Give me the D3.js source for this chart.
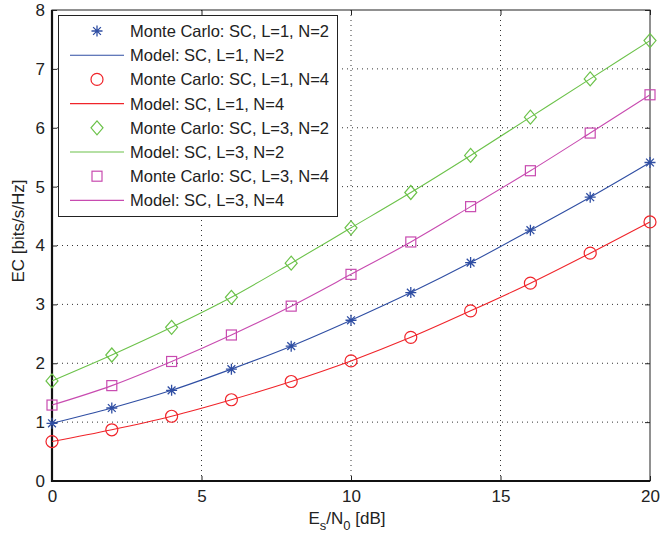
<!DOCTYPE html>
<html><head><meta charset="utf-8">
<script src="https://cdn.jsdelivr.net/npm/d3@7"></script>
<style>
body{margin:0;background:#fff;}
svg text{font-family:"Liberation Sans",Arial,Helvetica,sans-serif;fill:#222;}
</style></head>
<body><svg id="c" width="660" height="536"></svg>
<script>
const snr = [0,2,4,6,8,10,12,14,16,18,20];
const ecL1N2 = [0.98,1.24,1.54,1.90,2.29,2.73,3.20,3.71,4.26,4.82,5.41];
const ecL1N4 = [0.67,0.87,1.10,1.38,1.69,2.04,2.44,2.89,3.36,3.87,4.40];
const ecL3N2 = [1.70,2.14,2.61,3.12,3.70,4.30,4.90,5.53,6.18,6.83,7.48];
const ecL3N4 = [1.29,1.62,2.03,2.48,2.97,3.51,4.06,4.66,5.27,5.91,6.56];
const xTicks = [0,5,10,15,20];
const yTicks = [0,1,2,3,4,5,6,7,8];
const seriesNames = ["SC, L=1, N=2","SC, L=1, N=4","SC, L=3, N=2","SC, L=3, N=4"];
const seriesColors = ["#2f4ea3","#f0242a","#6cc24a","#c84bb0"];
const seriesMarkers = ["star","circle","diamond","square"];
const seriesData = [ecL1N2, ecL1N4, ecL3N2, ecL3N4];

const svg = d3.select("#c");
const L=52, R=650, T=10, B=481;
const x = d3.scaleLinear().domain([0,20]).range([L,R]);
const y = d3.scaleLinear().domain([0,8]).range([B,T]);

// grid
const g = svg.append("g");
g.selectAll(".gx").data(xTicks.slice(1,-1)).enter().append("line")
  .attr("x1",d=>x(d)).attr("x2",d=>x(d)).attr("y1",T).attr("y2",B)
  .attr("stroke","#333").attr("stroke-width",1).attr("stroke-dasharray","1,4");
g.selectAll(".gy").data(yTicks.slice(1,-1)).enter().append("line")
  .attr("y1",d=>y(d)).attr("y2",d=>y(d)).attr("x1",L).attr("x2",R)
  .attr("stroke","#333").attr("stroke-width",1).attr("stroke-dasharray","1,4");

// frame
svg.append("rect").attr("x",L).attr("y",T).attr("width",R-L).attr("height",B-T)
  .attr("fill","none").attr("stroke","#222").attr("stroke-width",1);

// axes
const xa = svg.append("g").attr("transform",`translate(0,${B})`)
  .call(d3.axisBottom(x).tickValues(xTicks).tickSize(-5).tickPadding(9).tickFormat(d3.format("d")));
const ya = svg.append("g").attr("transform",`translate(${L},0)`)
  .call(d3.axisLeft(y).tickValues(yTicks).tickSize(-5).tickPadding(7).tickFormat(d3.format("d")));
const xt = svg.append("g").attr("transform",`translate(0,${T})`)
  .call(d3.axisTop(x).tickValues(xTicks).tickSize(-5).tickFormat(""));
const yr = svg.append("g").attr("transform",`translate(${R},0)`)
  .call(d3.axisRight(y).tickValues(yTicks).tickSize(-5).tickFormat(""));
[xa,ya,xt,yr].forEach(a=>{a.select(".domain").remove();a.selectAll("line").attr("stroke","#222");});
[xa,ya].forEach(a=>a.selectAll("text").attr("font-size",17).style("fill","#222"));
xa.selectAll("text").attr("dy","0.71em");
// thick left & bottom axis lines
svg.append("line").attr("x1",L).attr("x2",L).attr("y1",T).attr("y2",B+1).attr("stroke","#111").attr("stroke-width",2.2);
svg.append("line").attr("x1",L-1).attr("x2",R).attr("y1",B).attr("y2",B).attr("stroke","#111").attr("stroke-width",2.2);

// marker drawing
function drawMarker(sel, type, color){
  if(type==="circle"){
    sel.append("circle").attr("r",6).attr("fill","none").attr("stroke",color).attr("stroke-width",1.2);
  } else if(type==="square"){
    sel.append("rect").attr("x",-5).attr("y",-5).attr("width",10).attr("height",10)
      .attr("fill","none").attr("stroke",color).attr("stroke-width",1.2);
  } else if(type==="diamond"){
    sel.append("path").attr("d","M0,-7L6,0L0,7L-6,0Z").attr("fill","none").attr("stroke",color).attr("stroke-width",1.2);
  } else if(type==="star"){
    sel.append("path").attr("d","M-5.5,0H5.5M0,-5.5V5.5M-3.9,-3.9L3.9,3.9M-3.9,3.9L3.9,-3.9")
      .attr("fill","none").attr("stroke",color).attr("stroke-width",1.3);
  }
}

const line = d3.line().x((d,i)=>x(snr[i])).y(d=>y(d)).curve(d3.curveMonotoneX);
seriesData.forEach((data,k)=>{
  svg.append("path").attr("d",line(data)).attr("fill","none").attr("stroke",seriesColors[k]).attr("stroke-width",1.1);
  svg.selectAll(null).data(data).enter().append("g")
    .attr("transform",(d,i)=>`translate(${x(snr[i])},${y(d)})`)
    .each(function(){drawMarker(d3.select(this),seriesMarkers[k],seriesColors[k]);});
});

// legend
const lg = svg.append("g");
lg.append("rect").attr("x",58.5).attr("y",15.5).attr("width",279).attr("height",201)
  .attr("fill","#fff").attr("stroke","#222").attr("stroke-width",1);
const rows = [];
seriesNames.forEach((n,k)=>{
  rows.push({label:"Monte Carlo: "+n, k, kind:"marker"});
  rows.push({label:"Model: "+n, k, kind:"line"});
});
rows.forEach((r,i)=>{
  const yy = 31 + i*24.2;
  const gg = lg.append("g").attr("transform",`translate(0,${yy})`);
  if(r.kind==="line"){
    gg.append("line").attr("x1",70).attr("x2",124).attr("y1",0).attr("y2",0)
      .attr("stroke",seriesColors[r.k]).attr("stroke-width",1.1);
  } else {
    const m = gg.append("g").attr("transform","translate(97,0)");
    drawMarker(m,seriesMarkers[r.k],seriesColors[r.k]);
  }
  gg.append("text").attr("x",130).attr("y",0).attr("dy","0.36em").attr("font-size",16.5).text(r.label);
});

// axis labels
svg.append("text").attr("transform","translate(24,231) rotate(-90)").attr("text-anchor","middle")
  .attr("font-size",17).text("EC [bits/s/Hz]");
const xl = svg.append("text").attr("x",347).attr("y",524).attr("text-anchor","middle").attr("font-size",17);
xl.append("tspan").text("E");
xl.append("tspan").attr("font-size",13).attr("dy",6).text("s");
xl.append("tspan").attr("dy",-6).text("/N");
xl.append("tspan").attr("font-size",13).attr("dy",6).text("0");
xl.append("tspan").attr("dy",-6).text(" [dB]");
</script></body></html>
